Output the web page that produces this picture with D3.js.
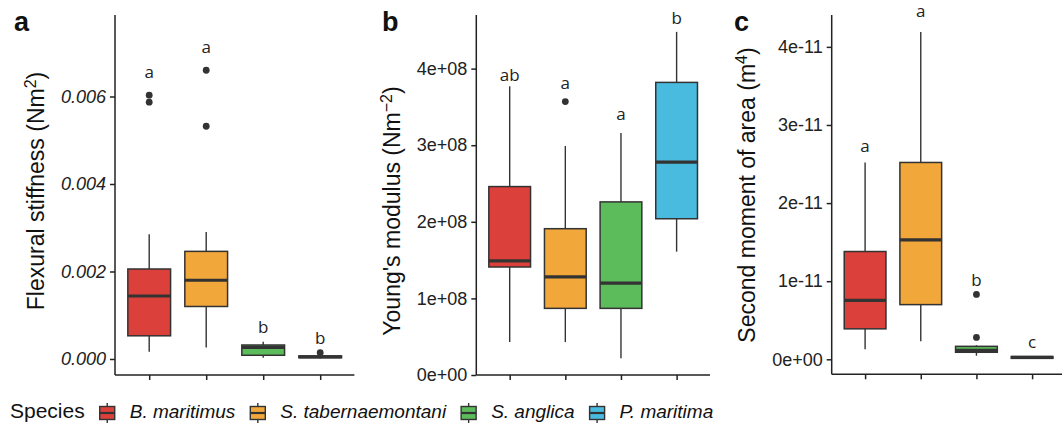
<!DOCTYPE html>
<html>
<head>
<meta charset="utf-8">
<script src="https://cdn.jsdelivr.net/npm/d3@7"></script>
<style>
	body{margin:0;background:#fff;}
	text{font-family:"Liberation Sans",Arial,sans-serif;fill:#111;}
	.axis path,.axis line{stroke:#222;stroke-width:1.5px;}
	.letter{font-family:"Open Sans","DejaVu Sans",sans-serif;}
</style>
</head>
<body>
<script>
// species / categories
var species = ["B. maritimus", "S. tabernaemontani", "S. anglica", "P. maritima"];
var colors = ["#dc403b", "#f1a73a", "#5cbb5b", "#48bbdf"];

// panel a: flexural stiffness  [lower whisker, Q1, median, Q3, upper whisker]
var statsA = [
	[0.000167, 0.00053, 0.00144, 0.002057, 0.00285],
	[0.00026, 0.0012, 0.0018, 0.00246, 0.0029],
	[0.00003, 0.000085, 0.000267, 0.00032, 0.000395],
	[0.00001, 0.00003, 0.00005, 0.00007, 0.00009]
];
var outliersA = [[0.00603, 0.00587], [0.0066, 0.00532], [], [0.000144]];
var lettersA = ["a", "a", "b", "b"];
var letterValA = [0.00642, 0.0070, 0.000587, 0.000343];
var ticksA = [0, 0.002, 0.004, 0.006];
var tickLabelsA = ["0.000", "0.002", "0.004", "0.006"];

// panel b: Young's modulus
var statsB = [
	[0.43e8, 1.41e8, 1.49e8, 2.46e8, 3.77e8],
	[0.43e8, 0.87e8, 1.28e8, 1.91e8, 2.99e8],
	[0.22e8, 0.87e8, 1.20e8, 2.26e8, 3.16e8],
	[1.61e8, 2.04e8, 2.78e8, 3.82e8, 4.48e8]
];
var outliersB = [[], [3.57e8], [], []];
var lettersB = ["ab", "a", "a", "b"];
var letterValB = [3.84e8, 3.73e8, 3.33e8, 4.58e8];
var ticksB = [0, 1e8, 2e8, 3e8, 4e8];
var tickLabelsB = ["0e+00", "1e+08", "2e+08", "3e+08", "4e+08"];

// panel c: second moment of area
var statsC = [
	[0.13e-11, 0.39e-11, 0.755e-11, 1.38e-11, 2.52e-11],
	[0.23e-11, 0.70e-11, 1.53e-11, 2.52e-11, 4.19e-11],
	[0.046e-11, 0.09e-11, 0.115e-11, 0.166e-11, 0.18e-11],
	[0.005e-11, 0.012e-11, 0.025e-11, 0.035e-11, 0.04e-11]
];
var outliersC = [[], [], [0.83e-11, 0.28e-11], []];
var lettersC = ["a", "a", "b", "c"];
var letterValC = [2.65e-11, 4.38e-11, 0.94e-11, 0.14e-11];
var ticksC = [0, 1e-11, 2e-11, 3e-11, 4e-11];
var tickLabelsC = ["0e+00", "1e-11", "2e-11", "3e-11", "4e-11"];

var W = 1062, H = 427;
var svg = d3.select("body").append("svg").attr("width", W).attr("height", H);
svg.append("rect").attr("width", W).attr("height", H).attr("fill", "#fff");

var panels = [
	{tag:"a", left:115, right:354.4, top:15, bottom:375, domain:[-0.000366, 0.007863],
	 stats:statsA, out:outliersA, letters:lettersA, letterVal:letterValA,
	 ticks:ticksA, tickLabels:tickLabelsA, italic:true,
	 title:["Flexural stiffness (Nm", "2", ")"], titleX:43.5, titleY:191, tagX:14},
	{tag:"b", left:476.3, right:710, top:15, bottom:375, domain:[0, 4.70e8],
	 stats:statsB, out:outliersB, letters:lettersB, letterVal:letterValB,
	 ticks:ticksB, tickLabels:tickLabelsB, italic:false,
	 title:["Young's modulus (Nm", "\u22122", ")"], titleX:399.5, titleY:211, tagX:382},
	{tag:"c", left:831.7, right:1065.5, top:15, bottom:374.3, domain:[-0.192e-11, 4.408e-11],
	 stats:statsC, out:outliersC, letters:lettersC, letterVal:letterValC,
	 ticks:ticksC, tickLabels:tickLabelsC, italic:false,
	 title:["Second moment of area (m", "4", ")"], titleX:754.5, titleY:195, tagX:734}
];

panels.forEach(function(p){
	var g = svg.append("g");
	var x = d3.scalePoint().domain(species).range([p.left, p.right]).padding(0.6);
	var y = d3.scaleLinear().domain(p.domain).range([p.bottom, p.top]);
	var bw = x.step() * 0.75;

	// whiskers
	g.selectAll(".whisker").data(p.stats).enter()
	.append("line").attr("class", "whisker")
	.attr("x1", function(d, i){ return x(species[i]); })
	.attr("x2", function(d, i){ return x(species[i]); })
	.attr("y1", function(d){ return y(d[0]); })
	.attr("y2", function(d){ return y(d[4]); })
	.attr("stroke", "#333").attr("stroke-width", 1.4);

	// boxes
	g.selectAll(".box").data(p.stats).enter()
	.append("rect").attr("class", "box")
	.attr("x", function(d, i){ return x(species[i]) - bw / 2; })
	.attr("width", bw)
	.attr("y", function(d){ return y(d[3]); })
	.attr("height", function(d){ return Math.max(0.5, y(d[1]) - y(d[3])); })
	.attr("fill", function(d, i){ return colors[i]; })
	.attr("stroke", "#333").attr("stroke-width", 1.5);

	// medians
	g.selectAll(".median").data(p.stats).enter()
	.append("line").attr("class", "median")
	.attr("x1", function(d, i){ return x(species[i]) - bw / 2; })
	.attr("x2", function(d, i){ return x(species[i]) + bw / 2; })
	.attr("y1", function(d){ return y(d[2]); })
	.attr("y2", function(d){ return y(d[2]); })
	.attr("stroke", "#333").attr("stroke-width", 3.2);

	// outliers
	var pts = [];
	p.out.forEach(function(arr, i){
		arr.forEach(function(v){ pts.push({s:species[i], v:v}); });
	});
	g.selectAll(".outlier").data(pts).enter()
	.append("circle").attr("class", "outlier")
	.attr("cx", function(d){ return x(d.s); })
	.attr("cy", function(d){ return y(d.v); })
	.attr("r", 3.4).attr("fill", "#333");

	// significance letters
	g.selectAll(".letter").data(p.letters).enter()
	.append("text").attr("class", "letter")
	.attr("x", function(d, i){ return x(species[i]); })
	.attr("y", function(d, i){ return y(p.letterVal[i]); })
	.attr("text-anchor", "middle")
	.style("font-size", "17px").style("fill", "#222")
	.text(function(d){ return d; });

	// axes
	var ya = g.append("g").attr("class", "axis")
	.attr("transform", "translate(" + p.left + ",0)")
	.call(d3.axisLeft(y).tickValues(p.ticks)
		.tickFormat(function(d, i){ return p.tickLabels[i]; })
		.tickSize(5).tickPadding(4).tickSizeOuter(0));
	ya.select(".domain").attr("d", "M0," + p.top + "V" + p.bottom);
	ya.selectAll("text").style("font-size", "18px").style("fill", "#222")
	.style("font-style", p.italic ? "italic" : "normal")
	.attr("font-family", null);

	var xa = g.append("g").attr("class", "axis")
	.attr("transform", "translate(0," + p.bottom + ")")
	.call(d3.axisBottom(x).tickFormat("").tickSize(5).tickSizeOuter(0));
	xa.select(".domain").attr("d", "M" + p.left + ",0H" + p.right);

	// y title (baseline at titleX)
	var t = g.append("text")
	.attr("transform", "translate(" + p.titleX + "," + p.titleY + ") rotate(-90)")
	.attr("text-anchor", "middle")
	.style("font-size", "23px");
	t.append("tspan").text(p.title[0]);
	t.append("tspan").attr("baseline-shift", "super").style("font-size", "16px").text(p.title[1]);
	t.append("tspan").text(p.title[2]);

	// panel tag
	g.append("text").attr("x", p.tagX).attr("y", 31)
	.style("font-size", "27px").style("font-weight", "bold")
	.text(p.tag);
});

// legend
var leg = svg.append("g").attr("transform", "translate(0,418)");
var cursor = 10;
var title = leg.append("text").attr("x", cursor).style("font-size", "21px").text("Species");
cursor += title.node().getComputedTextLength() + 14;
species.forEach(function(s, i){
	var k = leg.append("g").attr("transform", "translate(" + cursor + ",0)");
	k.append("line").attr("x1", 8.5).attr("x2", 8.5).attr("y1", -15).attr("y2", 5)
	.attr("stroke", "#333").attr("stroke-width", 1.4);
	k.append("rect").attr("x", 1).attr("y", -11.5).attr("width", 15).attr("height", 13)
	.attr("fill", colors[i]).attr("stroke", "#333").attr("stroke-width", 1.4);
	k.append("line").attr("x1", 1).attr("x2", 16).attr("y1", -5).attr("y2", -5)
	.attr("stroke", "#333").attr("stroke-width", 2.2);
	cursor += 31;
	var lt = leg.append("text").attr("x", cursor).style("font-size", "19px")
	.style("font-style", "italic").text(s);
	cursor += lt.node().getComputedTextLength() + 14;
});
</script>
</body>
</html>
